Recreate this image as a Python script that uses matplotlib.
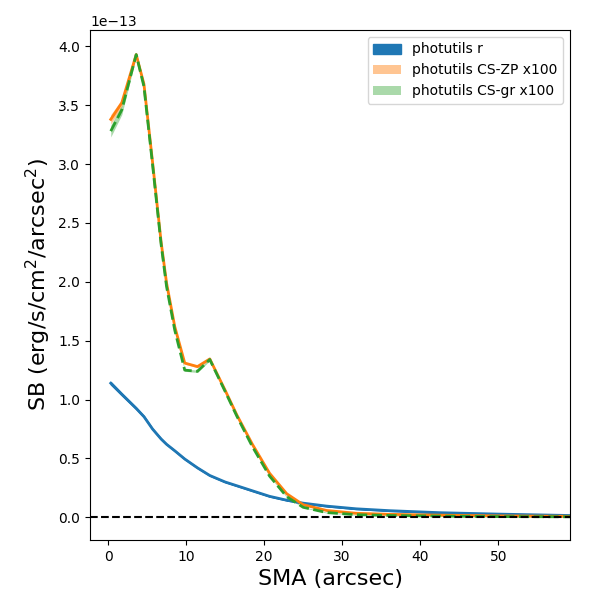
import matplotlib
matplotlib.use("Agg")
import matplotlib.pyplot as plt
import numpy as np

scale = 1e-13
sma = [0.35, 1.76, 3.61, 4.6, 5.7, 6.8, 7.5, 8.55, 9.83, 11.46, 13.04, 15.0, 16.5,
       18.5, 20.7, 22.9, 25.0, 28.0, 31.8, 36.1, 42.5, 50.0, 59.2]
sb_r = [1.139, 1.045, 0.925, 0.855, 0.75, 0.665, 0.62, 0.565, 0.495, 0.42, 0.355, 0.30, 0.268,
        0.225, 0.178, 0.145, 0.12, 0.095, 0.072, 0.056, 0.039, 0.027, 0.015]
err_r = [0.01, 0.008, 0.006, 0.005, 0.004, 0.004, 0.003, 0.003, 0.003, 0.003, 0.002, 0.002, 0.002,
         0.002, 0.002, 0.002, 0.002, 0.002, 0.002, 0.002, 0.002, 0.002, 0.002]
sb_zp = [3.38, 3.52, 3.93, 3.68, 3.02, 2.34, 1.99, 1.62, 1.31, 1.28, 1.345, 1.08, 0.87,
         0.62, 0.374, 0.20, 0.107, 0.058, 0.034, 0.025, 0.018, 0.012, 0.008]
err_zp = [0.04, 0.03, 0.02, 0.02, 0.02, 0.015, 0.015, 0.012, 0.01, 0.01, 0.01, 0.008, 0.008,
          0.006, 0.005, 0.005, 0.004, 0.004, 0.004, 0.004, 0.004, 0.004, 0.004]
sb_gr = [3.28, 3.46, 3.93, 3.66, 3.00, 2.32, 1.96, 1.59, 1.25, 1.24, 1.34, 1.07, 0.86,
         0.60, 0.35, 0.175, 0.085, 0.04, 0.022, 0.015, 0.010, 0.006, 0.004]
err_gr = [0.05, 0.04, 0.02, 0.02, 0.02, 0.015, 0.015, 0.012, 0.01, 0.01, 0.01, 0.008, 0.008,
          0.006, 0.005, 0.005, 0.004, 0.004, 0.004, 0.004, 0.004, 0.004, 0.004]

x = np.array(sma)
def arr(a):
    return np.array(a) * scale

fig, ax = plt.subplots(figsize=(6, 6), dpi=100)
fig.subplots_adjust(left=0.15, right=0.95, bottom=0.1, top=0.95)

ax.fill_between(x, arr(sb_r) - arr(err_r), arr(sb_r) + arr(err_r), color='C0', alpha=1.0,
                label='photutils r')
ax.plot(x, arr(sb_r), color='C0', lw=2)
ax.fill_between(x, arr(sb_zp) - arr(err_zp), arr(sb_zp) + arr(err_zp), color='C1', alpha=0.45,
                label='photutils CS-ZP x100', lw=0)
ax.plot(x, arr(sb_zp), color='C1', lw=2)
ax.fill_between(x, arr(sb_gr) - arr(err_gr), arr(sb_gr) + arr(err_gr), color='C2', alpha=0.4,
                label='photutils CS-gr x100', lw=0)
ax.plot(x, arr(sb_gr), color='C2', lw=2, ls='--')

ax.axhline(0, color='k', ls='--', lw=1.5)
ax.set_xlim(-2.31, 59.2)
ax.set_ylim(-0.193 * scale, 4.139 * scale)
ax.set_xlabel('SMA (arcsec)', fontsize=16)
ax.set_ylabel('SB (erg/s/cm$^2$/arcsec$^2$)', fontsize=16)
ax.legend(loc='upper right')
fig.savefig('out.png', dpi=100)
